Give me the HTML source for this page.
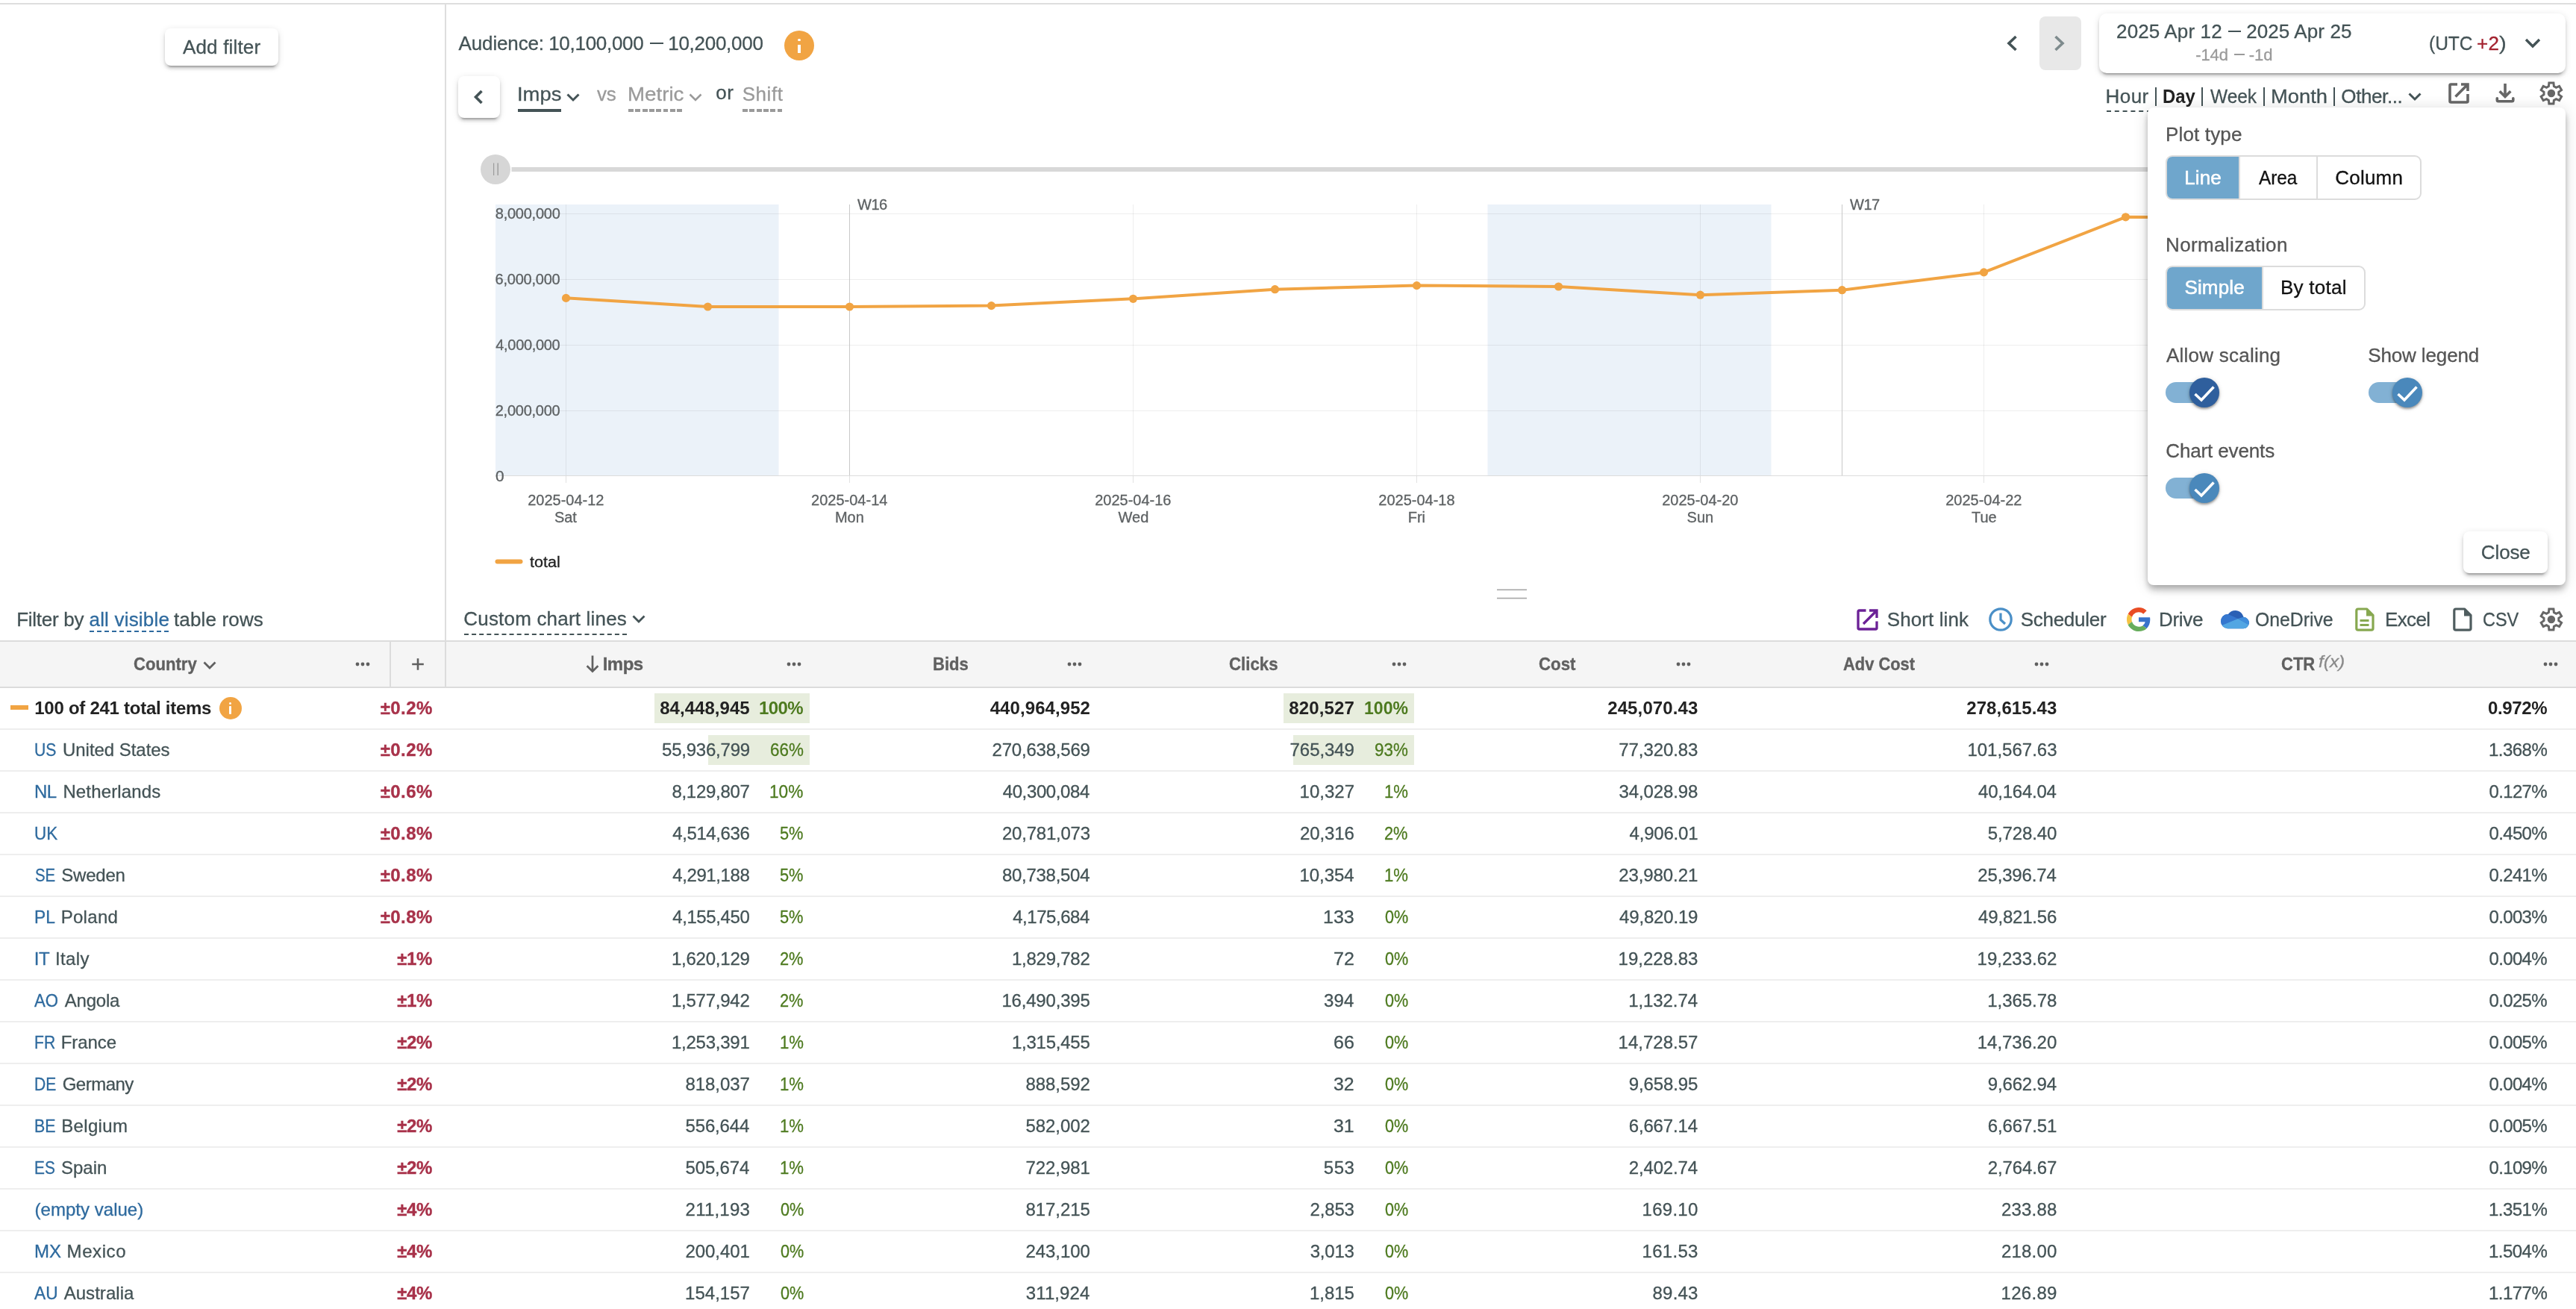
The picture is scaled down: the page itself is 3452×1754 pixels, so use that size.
<!DOCTYPE html>
<html><head><meta charset="utf-8"><title>Report</title>
<style>
html,body{margin:0;padding:0;background:#fff}
body{width:3452px;height:1754px;position:relative;overflow:hidden;font-family:"Liberation Sans",sans-serif;color:#445356}
.t{position:absolute;white-space:nowrap;height:40px;line-height:40px}
#w{position:absolute;left:0;top:0;width:3452px;height:1754px;overflow:hidden;will-change:transform}
</style></head><body><div id="w">
<div style="position:absolute;left:0px;top:4px;width:3452px;height:2px;background:#dedede;"></div>
<div style="position:absolute;left:596px;top:6px;width:2px;height:853px;background:#dedede;"></div>
<div style="position:absolute;left:221px;top:38px;width:152px;height:50px;border-radius:8px;background:#fff;box-shadow:0 6px 2px -4px rgba(0,0,0,.2),0 4px 4px 0 rgba(0,0,0,.14),0 2px 10px 0 rgba(0,0,0,.12)"></div>
<div style="position:absolute;left:870.5px;top:56.5px;width:18px;height:2px;background:#445356;"></div>
<div style="position:absolute;left:1051px;top:41px;width:40px;height:40px;border-radius:50%;background:#f1a443"></div>
<div style="position:absolute;left:1069.3px;top:59.5px;width:3.4px;height:11.5px;background:#fff;"></div>
<div style="position:absolute;left:1069.3px;top:51.8px;width:3.4px;height:3.6px;background:#fff;border-radius:1.7px"></div>
<div style="position:absolute;left:614px;top:102px;width:56px;height:56px;border-radius:8px;background:#fff;box-shadow:0 6px 2px -4px rgba(0,0,0,.2),0 4px 4px 0 rgba(0,0,0,.14),0 2px 10px 0 rgba(0,0,0,.12)"></div>
<svg style="position:absolute;left:628px;top:116px;" width="28" height="28" viewBox="0 0 28 28"><path d="M17.5 6 L9.5 14 L17.5 22" fill="none" stroke="#445356" stroke-width="3.6"/></svg>
<div style="position:absolute;left:694px;top:146px;width:57.5px;height:4px;background:#445356;"></div>
<svg style="position:absolute;left:758px;top:120px;" width="20" height="20" viewBox="0 0 20 20"><path d="M2.5 6.5 L10 14 L17.5 6.5" fill="none" stroke="#445356" stroke-width="3"/></svg>
<div style="position:absolute;left:842px;top:146px;width:74px;height:4px;background:repeating-linear-gradient(90deg,#9a9a9a 0 6.9px,transparent 6.9px 9.3px)"></div>
<svg style="position:absolute;left:922px;top:120px;" width="20" height="20" viewBox="0 0 20 20"><path d="M2.5 6.5 L10 14 L17.5 6.5" fill="none" stroke="#9a9a9a" stroke-width="2.6"/></svg>
<div style="position:absolute;left:995px;top:146px;width:54px;height:4px;background:repeating-linear-gradient(90deg,#9a9a9a 0 6.9px,transparent 6.9px 9.3px)"></div>
<svg style="position:absolute;left:0px;top:0px;pointer-events:none" width="3452" height="860" viewBox="0 0 3452 860"><rect x="664" y="274" width="379.5" height="364" fill="#ebf2f9"/><rect x="1993.5" y="274" width="380" height="364" fill="#ebf2f9"/><rect x="3323.5" y="274" width="100.5" height="364" fill="#ebf2f9"/><rect x="664" y="286" width="2760" height="1" fill="rgba(0,0,0,0.065)"/><rect x="664" y="374" width="2760" height="1" fill="rgba(0,0,0,0.065)"/><rect x="664" y="462" width="2760" height="1" fill="rgba(0,0,0,0.065)"/><rect x="664" y="550" width="2760" height="1" fill="rgba(0,0,0,0.065)"/><rect x="758.0" y="274" width="1" height="363" fill="rgba(0,0,0,0.065)"/><rect x="758.0" y="638" width="1" height="9" fill="#e2e2e2"/><rect x="1518.0" y="274" width="1" height="363" fill="rgba(0,0,0,0.065)"/><rect x="1518.0" y="638" width="1" height="9" fill="#e2e2e2"/><rect x="1898.0" y="274" width="1" height="363" fill="rgba(0,0,0,0.065)"/><rect x="1898.0" y="638" width="1" height="9" fill="#e2e2e2"/><rect x="2278.0" y="274" width="1" height="363" fill="rgba(0,0,0,0.065)"/><rect x="2278.0" y="638" width="1" height="9" fill="#e2e2e2"/><rect x="2658.0" y="274" width="1" height="363" fill="rgba(0,0,0,0.065)"/><rect x="2658.0" y="638" width="1" height="9" fill="#e2e2e2"/><rect x="3038.0" y="274" width="1" height="363" fill="rgba(0,0,0,0.065)"/><rect x="3038.0" y="638" width="1" height="9" fill="#e2e2e2"/><rect x="1138.0" y="274" width="1" height="363" fill="#c8c8c8"/><rect x="1138.0" y="638" width="1" height="9" fill="#e2e2e2"/><rect x="2468.0" y="274" width="1" height="363" fill="#c8c8c8"/><rect x="664" y="637" width="2760" height="1" fill="#dcdcdc"/><polyline points="758.5,399.4 948.5,411.0 1138.5,411.0 1328.5,409.6 1518.5,400.3 1708.5,387.7 1898.5,382.6 2088.5,384.0 2278.5,395.2 2468.5,388.7 2658.5,364.9 2848.5,290.8 3038.5,292.0 3228.5,301.0" fill="none" stroke="#f1a443" stroke-width="4" stroke-linejoin="round" stroke-linecap="round"/><circle cx="758.5" cy="399.4" r="5.6" fill="#f1a443"/><circle cx="948.5" cy="411.0" r="5.6" fill="#f1a443"/><circle cx="1138.5" cy="411.0" r="5.6" fill="#f1a443"/><circle cx="1328.5" cy="409.6" r="5.6" fill="#f1a443"/><circle cx="1518.5" cy="400.3" r="5.6" fill="#f1a443"/><circle cx="1708.5" cy="387.7" r="5.6" fill="#f1a443"/><circle cx="1898.5" cy="382.6" r="5.6" fill="#f1a443"/><circle cx="2088.5" cy="384.0" r="5.6" fill="#f1a443"/><circle cx="2278.5" cy="395.2" r="5.6" fill="#f1a443"/><circle cx="2468.5" cy="388.7" r="5.6" fill="#f1a443"/><circle cx="2658.5" cy="364.9" r="5.6" fill="#f1a443"/><circle cx="2848.5" cy="290.8" r="5.6" fill="#f1a443"/><circle cx="3038.5" cy="292.0" r="5.6" fill="#f1a443"/><circle cx="3228.5" cy="301.0" r="5.6" fill="#f1a443"/><rect x="663.5" y="749.5" width="37" height="6" rx="3" fill="#f1a443"/><rect x="685.5" y="224" width="2738" height="6" fill="#d8d8d8"/><circle cx="664" cy="227" r="20" fill="#d6d6d6"/><rect x="661" y="218.5" width="1.2" height="16.5" fill="#9c9c9c"/><rect x="666.5" y="218.5" width="1.4" height="16.5" fill="#9c9c9c"/><rect x="2006" y="789.5" width="40" height="1.6" fill="#a6a6a6"/><rect x="2006" y="800.8" width="40" height="1.6" fill="#a6a6a6"/></svg>
<svg style="position:absolute;left:2682px;top:44px;" width="28" height="28" viewBox="0 0 28 28"><path d="M19.5 5 L10 14 L19.5 23" fill="none" stroke="#445356" stroke-width="3.6"/></svg>
<div style="position:absolute;left:2733px;top:22px;width:56px;height:72px;background:#e8e8e8;border-radius:8px"></div>
<svg style="position:absolute;left:2745px;top:44px;" width="28" height="28" viewBox="0 0 28 28"><path d="M9.5 5 L19 14 L9.5 23" fill="none" stroke="#7e8b8d" stroke-width="3.6"/></svg>
<div style="position:absolute;left:2813px;top:18px;width:625px;height:80px;border-radius:10px;background:#fff;box-shadow:0 6px 2px -4px rgba(0,0,0,.2),0 4px 4px 0 rgba(0,0,0,.14),0 2px 10px 0 rgba(0,0,0,.12)"></div>
<div style="position:absolute;left:2985.5px;top:40.6px;width:17px;height:2px;background:#445356;"></div>
<div style="position:absolute;left:2993.6px;top:72.3px;width:14.4px;height:2.2px;background:#9a9a9a;"></div>
<svg style="position:absolute;left:3382px;top:46px;" width="24" height="24" viewBox="0 0 24 24"><path d="M3 7 L12 16 L21 7" fill="none" stroke="#445356" stroke-width="3.4"/></svg>
<div style="position:absolute;left:2887.8px;top:117px;width:2.2px;height:25px;background:#445356;"></div>
<div style="position:absolute;left:2950.3px;top:117px;width:2.2px;height:25px;background:#445356;"></div>
<div style="position:absolute;left:3032.8px;top:117px;width:2.2px;height:25px;background:#445356;"></div>
<div style="position:absolute;left:3127.0px;top:117px;width:2.2px;height:25px;background:#445356;"></div>
<div style="position:absolute;left:2823px;top:148px;width:60px;height:0;border-top:2px dashed #445356"></div>
<svg style="position:absolute;left:3226px;top:120px;" width="20" height="20" viewBox="0 0 20 20"><path d="M2.5 5.5 L10 13 L17.5 5.5" fill="none" stroke="#445356" stroke-width="3"/></svg>
<svg style="position:absolute;left:3281px;top:111px;" width="28" height="28" viewBox="0 0 28 28"><path d="M12 2 H3.5 Q2 2 2 3.5 V24.5 Q2 26 3.5 26 H24.5 Q26 26 26 24.5 V15" fill="none" stroke="#666" stroke-width="3.6"/><path d="M17 2 H26 V11 M26 2 L9.5 18.5" fill="none" stroke="#666" stroke-width="3.6"/></svg>
<svg style="position:absolute;left:3343px;top:111px;" width="28" height="28" viewBox="0 0 28 28"><path d="M14 1.1 V18 M6.7 11.2 L14 18.5 L21.3 11.2" fill="none" stroke="#666" stroke-width="3.6"/><path d="M3.3 20.8 V23 Q3.3 24.7 5 24.7 H23.1 Q24.8 24.7 24.8 23 V20.8" fill="none" stroke="#666" stroke-width="3.6" stroke-linecap="round"/></svg>
<svg style="position:absolute;left:3398px;top:105px;" width="40" height="40" viewBox="0 0 40 40"><path d="M17.4 10.5 L17.9 5.9 L23.9 5.9 L24.4 10.5 L27.4 12.3 L31.6 10.4 L34.6 15.6 L30.8 18.3 L30.8 21.7 L34.6 24.4 L31.6 29.6 L27.4 27.7 L24.4 29.5 L23.9 34.1 L17.9 34.1 L17.4 29.5 L14.4 27.7 L10.2 29.6 L7.2 24.4 L11.0 21.7 L11.0 18.3 L7.2 15.6 L10.2 10.4 L14.4 12.3 Z" fill="none" stroke="#666" stroke-width="3.0" stroke-linejoin="miter"/><circle cx="20.9" cy="20" r="5.25" fill="#666"/></svg>
<div style="position:absolute;left:120px;top:845px;width:106px;height:0;border-top:2px dashed #2e6a9e"></div>
<div style="position:absolute;left:622px;top:849px;width:218px;height:0;border-top:2px dashed #445356"></div>
<svg style="position:absolute;left:846px;top:820px;" width="20" height="20" viewBox="0 0 20 20"><path d="M2.5 5.5 L10 13 L17.5 5.5" fill="none" stroke="#445356" stroke-width="2.8"/></svg>
<svg style="position:absolute;left:2488px;top:816px;" width="29" height="29" viewBox="0 0 29 29"><path d="M12.5 2 H3.5 Q2 2 2 3.5 V25.5 Q2 27 3.5 27 H25.5 Q27 27 27 25.5 V16.5" fill="none" stroke="#6b2196" stroke-width="3.3"/><path d="M17 2 H27 V12 M27 2 L9 20" fill="none" stroke="#6b2196" stroke-width="3.3"/></svg>
<svg style="position:absolute;left:2664px;top:813px;" width="34" height="34" viewBox="0 0 34 34"><circle cx="17" cy="17" r="14.2" fill="none" stroke="#4a8fc7" stroke-width="3.2"/><path d="M17 8.5 V17.5 L23 23" fill="none" stroke="#4a8fc7" stroke-width="3.2"/></svg>
<svg style="position:absolute;left:2850px;top:814px;" width="32" height="32" viewBox="0 0 48 48"><path fill="#e94d25" d="M24 9.5c3.54 0 6.71 1.22 9.21 3.6l6.85-6.85C35.9 2.38 30.47 0 24 0 14.62 0 6.51 5.38 2.56 13.22l7.98 6.19C12.43 13.72 17.74 9.5 24 9.5z"/><path fill="#3874cb" d="M46.98 24.55c0-1.57-.15-3.09-.38-4.55H24v9.02h12.94c-.58 2.96-2.26 5.48-4.78 7.18l7.73 6c4.51-4.18 7.09-10.36 7.09-17.65z"/><path fill="#f5c242" d="M10.53 28.59c-.48-1.45-.76-2.99-.76-4.59s.27-3.14.76-4.59l-7.98-6.19C.92 16.46 0 20.12 0 24c0 3.88.92 7.54 2.56 10.78l7.97-6.19z"/><path fill="#67ad5c" d="M24 48c6.48 0 11.93-2.13 15.89-5.81l-7.73-6c-2.15 1.45-4.92 2.3-8.16 2.3-6.26 0-11.57-4.22-13.47-9.91l-7.98 6.19C6.51 42.62 14.62 48 24 48z"/></svg>
<svg style="position:absolute;left:2975px;top:817px;" width="40" height="27" viewBox="0 0 40 27"><defs><clipPath id="odc"><ellipse cx="9.9" cy="15.55" rx="8.8" ry="9.65"/><circle cx="31.2" cy="17.5" r="7.7"/><rect x="9.9" y="12" width="21.3" height="13.2"/><path d="M10.6 6.4 C12.6 3.2 16.3 1 20.6 1 C26.2 1 30.2 4.6 31.5 10 L31.5 14 L10.6 14 Z"/></clipPath></defs><g clip-path="url(#odc)"><rect x="0" y="0" width="40" height="27" fill="#2a60b5"/><path d="M0 0 H10.4 V6 Q17 8.6 24 12.1 L0 21.9 Z" fill="#3577cf"/><path d="M24 12.1 L31.5 9.7 V0 H40 V21 Z" fill="#3f8ddc"/><path d="M24 12.1 L40 21 V27 H0 V21.9 Z" fill="#52a6e3"/></g></svg>
<svg style="position:absolute;left:3155px;top:814px;" width="28" height="33" viewBox="0 0 28 33"><path d="M5 2 H16.5 L25 10.5 V28 Q25 30.2 22.8 30.2 H5 Q2.8 30.2 2.8 28 V4.2 Q2.8 2 5 2 Z" fill="none" stroke="#87a850" stroke-width="3.2" stroke-linejoin="round"/><path d="M16 2 L25.5 11.5 H16 Z" fill="#87a850"/><rect x="7.5" y="16" width="12" height="3" fill="#87a850"/><rect x="7.5" y="22" width="12" height="3" fill="#87a850"/></svg>
<svg style="position:absolute;left:3286px;top:814px;" width="28" height="33" viewBox="0 0 28 33"><path d="M5 2 H16.5 L25 10.5 V28 Q25 30.2 22.8 30.2 H5 Q2.8 30.2 2.8 28 V4.2 Q2.8 2 5 2 Z" fill="none" stroke="#4f5d5f" stroke-width="3.2" stroke-linejoin="round"/><path d="M16 2 L25.5 11.5 H16 Z" fill="#4f5d5f"/></svg>
<svg style="position:absolute;left:3398px;top:810px;" width="40" height="40" viewBox="0 0 40 40"><path d="M17.4 10.5 L17.9 5.9 L23.9 5.9 L24.4 10.5 L27.4 12.3 L31.6 10.4 L34.6 15.6 L30.8 18.3 L30.8 21.7 L34.6 24.4 L31.6 29.6 L27.4 27.7 L24.4 29.5 L23.9 34.1 L17.9 34.1 L17.4 29.5 L14.4 27.7 L10.2 29.6 L7.2 24.4 L11.0 21.7 L11.0 18.3 L7.2 15.6 L10.2 10.4 L14.4 12.3 Z" fill="none" stroke="#666" stroke-width="3.0" stroke-linejoin="miter"/><circle cx="20.9" cy="20" r="5.25" fill="#666"/></svg>
<div style="position:absolute;left:0px;top:859px;width:3452px;height:63px;background:#f5f5f5;"></div>
<div style="position:absolute;left:0px;top:858px;width:3452px;height:2px;background:#dcdcdc;"></div>
<div style="position:absolute;left:0px;top:920px;width:3452px;height:2px;background:#dcdcdc;"></div>
<div style="position:absolute;left:522px;top:860px;width:2px;height:60px;background:#dcdcdc;"></div>
<div style="position:absolute;left:596px;top:860px;width:2px;height:60px;background:#dcdcdc;"></div>
<svg style="position:absolute;left:271px;top:882px;" width="20" height="20" viewBox="0 0 20 20"><path d="M2.5 5.5 L10 13 L17.5 5.5" fill="none" stroke="#606060" stroke-width="2.8"/></svg>
<svg style="position:absolute;left:476px;top:887px;" width="20" height="6" viewBox="0 0 20 6"><circle cx="3" cy="3" r="2.4" fill="#606060"/><circle cx="10" cy="3" r="2.4" fill="#606060"/><circle cx="17" cy="3" r="2.4" fill="#606060"/></svg>
<svg style="position:absolute;left:551px;top:881px;" width="18" height="18" viewBox="0 0 18 18"><path d="M9 1.2 V16.8 M1.2 9 H16.8" stroke="#606060" stroke-width="2.6" fill="none"/></svg>
<svg style="position:absolute;left:785px;top:878px;" width="18" height="24" viewBox="0 0 18 24"><path d="M9 0.5 V21.5 M1.6 14.2 L9 21.6 L16.4 14.2" stroke="#606060" stroke-width="2.7" fill="none"/></svg>
<svg style="position:absolute;left:1054px;top:887px;" width="20" height="6" viewBox="0 0 20 6"><circle cx="3" cy="3" r="2.4" fill="#606060"/><circle cx="10" cy="3" r="2.4" fill="#606060"/><circle cx="17" cy="3" r="2.4" fill="#606060"/></svg>
<svg style="position:absolute;left:1430px;top:887px;" width="20" height="6" viewBox="0 0 20 6"><circle cx="3" cy="3" r="2.4" fill="#606060"/><circle cx="10" cy="3" r="2.4" fill="#606060"/><circle cx="17" cy="3" r="2.4" fill="#606060"/></svg>
<svg style="position:absolute;left:1865px;top:887px;" width="20" height="6" viewBox="0 0 20 6"><circle cx="3" cy="3" r="2.4" fill="#606060"/><circle cx="10" cy="3" r="2.4" fill="#606060"/><circle cx="17" cy="3" r="2.4" fill="#606060"/></svg>
<svg style="position:absolute;left:2246px;top:887px;" width="20" height="6" viewBox="0 0 20 6"><circle cx="3" cy="3" r="2.4" fill="#606060"/><circle cx="10" cy="3" r="2.4" fill="#606060"/><circle cx="17" cy="3" r="2.4" fill="#606060"/></svg>
<svg style="position:absolute;left:2726px;top:887px;" width="20" height="6" viewBox="0 0 20 6"><circle cx="3" cy="3" r="2.4" fill="#606060"/><circle cx="10" cy="3" r="2.4" fill="#606060"/><circle cx="17" cy="3" r="2.4" fill="#606060"/></svg>
<svg style="position:absolute;left:3408px;top:887px;" width="20" height="6" viewBox="0 0 20 6"><circle cx="3" cy="3" r="2.4" fill="#606060"/><circle cx="10" cy="3" r="2.4" fill="#606060"/><circle cx="17" cy="3" r="2.4" fill="#606060"/></svg>
<div style="position:absolute;left:877px;top:929px;width:208px;height:40px;background:#e7eddd;"></div>
<div style="position:absolute;left:1720px;top:929px;width:175px;height:40px;background:#e7eddd;"></div>
<div style="position:absolute;left:14px;top:945px;width:24px;height:6px;background:#f1a443;"></div>
<div style="position:absolute;left:293.5px;top:934px;width:30px;height:30px;border-radius:50%;background:#f1a443"></div>
<div style="position:absolute;left:307px;top:946px;width:3px;height:11px;background:#fff;border-radius:1px"></div>
<div style="position:absolute;left:307px;top:940.5px;width:3px;height:3px;background:#fff;border-radius:1.5px"></div>
<div style="position:absolute;left:0px;top:976px;width:3452px;height:2px;background:#eeeeee;"></div>
<div style="position:absolute;left:949px;top:985px;width:136px;height:40px;background:#e7eddd;"></div>
<div style="position:absolute;left:1733px;top:985px;width:162px;height:40px;background:#e7eddd;"></div>
<div style="position:absolute;left:0px;top:1032px;width:3452px;height:2px;background:#eeeeee;"></div>
<div style="position:absolute;left:0px;top:1088px;width:3452px;height:2px;background:#eeeeee;"></div>
<div style="position:absolute;left:0px;top:1144px;width:3452px;height:2px;background:#eeeeee;"></div>
<div style="position:absolute;left:0px;top:1200px;width:3452px;height:2px;background:#eeeeee;"></div>
<div style="position:absolute;left:0px;top:1256px;width:3452px;height:2px;background:#eeeeee;"></div>
<div style="position:absolute;left:0px;top:1312px;width:3452px;height:2px;background:#eeeeee;"></div>
<div style="position:absolute;left:0px;top:1368px;width:3452px;height:2px;background:#eeeeee;"></div>
<div style="position:absolute;left:0px;top:1424px;width:3452px;height:2px;background:#eeeeee;"></div>
<div style="position:absolute;left:0px;top:1480px;width:3452px;height:2px;background:#eeeeee;"></div>
<div style="position:absolute;left:0px;top:1536px;width:3452px;height:2px;background:#eeeeee;"></div>
<div style="position:absolute;left:0px;top:1592px;width:3452px;height:2px;background:#eeeeee;"></div>
<div style="position:absolute;left:0px;top:1648px;width:3452px;height:2px;background:#eeeeee;"></div>
<div style="position:absolute;left:0px;top:1704px;width:3452px;height:2px;background:#eeeeee;"></div>
<div style="position:absolute;left:0px;top:1760px;width:3452px;height:2px;background:#eeeeee;"></div>
<div class="t" style="left:245.0px;top:43.0px;font-size:26px;letter-spacing:0.16px;-webkit-text-stroke:0.3px #445356;">Add filter</div>
<div class="t" style="left:614.6px;top:37.5px;font-size:26px;letter-spacing:-0.15px;-webkit-text-stroke:0.3px #445356;">Audience:</div>
<div class="t" style="left:735.2px;top:37.5px;font-size:26px;letter-spacing:-0.29px;-webkit-text-stroke:0.3px #445356;">10,100,000</div>
<div class="t" style="left:895.2px;top:37.5px;font-size:26px;letter-spacing:-0.27px;-webkit-text-stroke:0.3px #445356;">10,200,000</div>
<div class="t" style="left:693.0px;top:105.5px;font-size:26px;transform:scaleX(1.053);transform-origin:0 0;-webkit-text-stroke:0.3px #445356;">Imps</div>
<div class="t" style="left:800.0px;top:105.5px;font-size:26px;color:#9a9a9a;letter-spacing:-0.13px;-webkit-text-stroke:0.3px #9a9a9a;">vs</div>
<div class="t" style="left:841.1px;top:105.5px;font-size:26px;color:#9a9a9a;transform:scaleX(1.066);transform-origin:0 0;-webkit-text-stroke:0.3px #9a9a9a;">Metric</div>
<div class="t" style="left:959.3px;top:104.2px;font-size:26px;letter-spacing:0.53px;-webkit-text-stroke:0.3px #445356;">or</div>
<div class="t" style="left:994.7px;top:105.5px;font-size:26px;color:#9a9a9a;letter-spacing:0.54px;-webkit-text-stroke:0.3px #9a9a9a;">Shift</div>
<div class="t" style="left:663.8px;top:266.0px;font-size:20px;color:#5d6163;letter-spacing:-0.25px;-webkit-text-stroke:0.3px #5d6163;">8,000,000</div>
<div class="t" style="left:663.6px;top:354.0px;font-size:20px;color:#5d6163;letter-spacing:-0.23px;-webkit-text-stroke:0.3px #5d6163;">6,000,000</div>
<div class="t" style="left:664.3px;top:442.0px;font-size:20px;color:#5d6163;letter-spacing:-0.32px;-webkit-text-stroke:0.3px #5d6163;">4,000,000</div>
<div class="t" style="left:663.7px;top:530.0px;font-size:20px;color:#5d6163;letter-spacing:-0.24px;-webkit-text-stroke:0.3px #5d6163;">2,000,000</div>
<div class="t" style="left:664.0px;top:618.0px;font-size:20px;color:#5d6163;transform:scaleX(1.043);transform-origin:0 0;-webkit-text-stroke:0.3px #5d6163;">0</div>
<div class="t" style="left:707.2px;top:650.0px;font-size:20px;color:#5d6163;-webkit-text-stroke:0.3px #5d6163;">2025-04-12</div>
<div class="t" style="left:742.9px;top:673.0px;font-size:20px;color:#5d6163;-webkit-text-stroke:0.3px #5d6163;">Sat</div>
<div class="t" style="left:1087.1px;top:650.0px;font-size:20px;color:#5d6163;-webkit-text-stroke:0.3px #5d6163;">2025-04-14</div>
<div class="t" style="left:1118.9px;top:673.0px;font-size:20px;color:#5d6163;-webkit-text-stroke:0.3px #5d6163;">Mon</div>
<div class="t" style="left:1467.2px;top:650.0px;font-size:20px;color:#5d6163;-webkit-text-stroke:0.3px #5d6163;">2025-04-16</div>
<div class="t" style="left:1498.6px;top:673.0px;font-size:20px;color:#5d6163;-webkit-text-stroke:0.3px #5d6163;">Wed</div>
<div class="t" style="left:1847.3px;top:650.0px;font-size:20px;color:#5d6163;-webkit-text-stroke:0.3px #5d6163;">2025-04-18</div>
<div class="t" style="left:1886.7px;top:673.0px;font-size:20px;color:#5d6163;-webkit-text-stroke:0.3px #5d6163;">Fri</div>
<div class="t" style="left:2227.2px;top:650.0px;font-size:20px;color:#5d6163;-webkit-text-stroke:0.3px #5d6163;">2025-04-20</div>
<div class="t" style="left:2260.6px;top:673.0px;font-size:20px;color:#5d6163;-webkit-text-stroke:0.3px #5d6163;">Sun</div>
<div class="t" style="left:2607.2px;top:650.0px;font-size:20px;color:#5d6163;-webkit-text-stroke:0.3px #5d6163;">2025-04-22</div>
<div class="t" style="left:2642.0px;top:673.0px;font-size:20px;color:#5d6163;-webkit-text-stroke:0.3px #5d6163;">Tue</div>
<div class="t" style="left:1149.0px;top:254.0px;font-size:20px;color:#5d6163;letter-spacing:-0.50px;-webkit-text-stroke:0.3px #5d6163;">W16</div>
<div class="t" style="left:2479.0px;top:254.0px;font-size:20px;color:#5d6163;letter-spacing:-0.45px;-webkit-text-stroke:0.3px #5d6163;">W17</div>
<div class="t" style="left:709.9px;top:733.2px;font-size:20px;color:#222;transform:scaleX(1.079);transform-origin:0 0;-webkit-text-stroke:0.3px #222;">total</div>
<div class="t" style="left:2836.1px;top:21.5px;font-size:26px;letter-spacing:0.13px;-webkit-text-stroke:0.3px #445356;">2025 Apr 12</div>
<div class="t" style="left:3010.2px;top:21.5px;font-size:26px;letter-spacing:0.10px;-webkit-text-stroke:0.3px #445356;">2025 Apr 25</div>
<div class="t" style="left:2942.2px;top:53.5px;font-size:22px;color:#9a9a9a;letter-spacing:-0.07px;-webkit-text-stroke:0.3px #9a9a9a;">-14d</div>
<div class="t" style="left:3013.8px;top:53.5px;font-size:22px;color:#9a9a9a;letter-spacing:-0.09px;-webkit-text-stroke:0.3px #9a9a9a;">-1d</div>
<div class="t" style="left:3255.0px;top:37.5px;font-size:26px;transform:scaleX(0.943);transform-origin:0 0;-webkit-text-stroke:0.3px #445356;">(UTC</div>
<div class="t" style="left:3319.0px;top:37.5px;font-size:26px;color:#a3222f;letter-spacing:0.33px;-webkit-text-stroke:0.3px #a3222f;">+2</div>
<div class="t" style="left:3348.7px;top:37.5px;font-size:26px;transform:scaleX(1.121);transform-origin:0 0;-webkit-text-stroke:0.3px #445356;">)</div>
<div class="t" style="left:2821.5px;top:108.5px;font-size:26px;letter-spacing:0.45px;-webkit-text-stroke:0.3px #445356;">Hour</div>
<div class="t" style="left:2897.6px;top:108.5px;font-size:26px;color:#222;font-weight:700;transform:scaleX(0.918);transform-origin:0 0;">Day</div>
<div class="t" style="left:2962.0px;top:108.5px;font-size:26px;transform:scaleX(0.941);transform-origin:0 0;-webkit-text-stroke:0.3px #445356;">Week</div>
<div class="t" style="left:3042.6px;top:108.5px;font-size:26px;transform:scaleX(1.051);transform-origin:0 0;-webkit-text-stroke:0.3px #445356;">Month</div>
<div class="t" style="left:3137.3px;top:108.5px;font-size:26px;letter-spacing:-0.39px;-webkit-text-stroke:0.3px #445356;">Other...</div>
<div class="t" style="left:22.2px;top:810.0px;font-size:26px;letter-spacing:-0.26px;-webkit-text-stroke:0.3px #445356;">Filter by</div>
<div class="t" style="left:119.5px;top:810.0px;font-size:26px;color:#2e6a9e;letter-spacing:0.19px;-webkit-text-stroke:0.3px #2e6a9e;">all visible</div>
<div class="t" style="left:232.9px;top:810.0px;font-size:26px;letter-spacing:0.16px;-webkit-text-stroke:0.3px #445356;">table rows</div>
<div class="t" style="left:621.3px;top:809.0px;font-size:26px;letter-spacing:0.19px;-webkit-text-stroke:0.3px #445356;">Custom chart lines</div>
<div class="t" style="left:2528.7px;top:810.0px;font-size:26px;letter-spacing:0.10px;-webkit-text-stroke:0.3px #445356;">Short link</div>
<div class="t" style="left:2707.7px;top:810.0px;font-size:26px;letter-spacing:-0.27px;-webkit-text-stroke:0.3px #445356;">Scheduler</div>
<div class="t" style="left:2893.0px;top:810.0px;font-size:26px;letter-spacing:-0.33px;-webkit-text-stroke:0.3px #445356;">Drive</div>
<div class="t" style="left:3022.0px;top:810.0px;font-size:26px;transform:scaleX(0.952);transform-origin:0 0;-webkit-text-stroke:0.3px #445356;">OneDrive</div>
<div class="t" style="left:3196.0px;top:810.0px;font-size:26px;letter-spacing:-0.62px;-webkit-text-stroke:0.3px #445356;">Excel</div>
<div class="t" style="left:3326.9px;top:810.0px;font-size:26px;transform:scaleX(0.903);transform-origin:0 0;-webkit-text-stroke:0.3px #445356;">CSV</div>
<div class="t" style="left:179.2px;top:870.0px;font-size:24px;color:#606060;font-weight:700;transform:scaleX(0.921);transform-origin:0 0;-webkit-text-stroke:0.35px #606060;">Country</div>
<div class="t" style="left:807.7px;top:870.0px;font-size:24px;color:#606060;font-weight:700;letter-spacing:-0.50px;-webkit-text-stroke:0.35px #606060;">Imps</div>
<div class="t" style="left:1250.3px;top:870.0px;font-size:24px;color:#606060;font-weight:700;transform:scaleX(0.920);transform-origin:0 0;-webkit-text-stroke:0.35px #606060;">Bids</div>
<div class="t" style="left:1646.7px;top:870.0px;font-size:24px;color:#606060;font-weight:700;transform:scaleX(0.928);transform-origin:0 0;-webkit-text-stroke:0.35px #606060;">Clicks</div>
<div class="t" style="left:2062.2px;top:870.0px;font-size:24px;color:#606060;font-weight:700;transform:scaleX(0.927);transform-origin:0 0;-webkit-text-stroke:0.35px #606060;">Cost</div>
<div class="t" style="left:2469.6px;top:870.0px;font-size:24px;color:#606060;font-weight:700;transform:scaleX(0.912);transform-origin:0 0;-webkit-text-stroke:0.35px #606060;">Adv Cost</div>
<div class="t" style="left:3057.2px;top:870.0px;font-size:24px;color:#606060;font-weight:700;transform:scaleX(0.916);transform-origin:0 0;-webkit-text-stroke:0.35px #606060;">CTR</div>
<div class="t" style="left:3107.4px;top:866.5px;font-size:22px;color:#8a8a8a;transform:scaleX(1.109);transform-origin:0 0;font-style:italic;-webkit-text-stroke:0.3px #8a8a8a;">f(x)</div>
<div class="t" style="left:46.3px;top:928.5px;font-size:24px;color:#222;font-weight:700;letter-spacing:-0.27px;">100 of 241 total items</div>
<div class="t" style="left:509.7px;top:928.5px;font-size:24px;color:#a8324a;font-weight:700;letter-spacing:0.43px;-webkit-text-stroke:0.35px #a8324a;">±0.2%</div>
<div class="t" style="left:884.2px;top:928.5px;font-size:24px;color:#222;font-weight:700;letter-spacing:0.04px;">84,448,945</div>
<div class="t" style="left:1017.0px;top:928.5px;font-size:24px;color:#4d7a1f;font-weight:700;letter-spacing:-0.60px;">100%</div>
<div class="t" style="left:1326.7px;top:928.5px;font-size:24px;color:#222;font-weight:700;letter-spacing:0.08px;">440,964,952</div>
<div class="t" style="left:1727.2px;top:928.5px;font-size:24px;color:#222;font-weight:700;letter-spacing:0.15px;">820,527</div>
<div class="t" style="left:1827.6px;top:928.5px;font-size:24px;color:#4d7a1f;font-weight:700;transform:scaleX(0.961);transform-origin:0 0;">100%</div>
<div class="t" style="left:2154.2px;top:928.5px;font-size:24px;color:#222;font-weight:700;letter-spacing:0.12px;">245,070.43</div>
<div class="t" style="left:2635.2px;top:928.5px;font-size:24px;color:#222;font-weight:700;letter-spacing:0.12px;">278,615.43</div>
<div class="t" style="left:3334.0px;top:928.5px;font-size:24px;color:#222;font-weight:700;letter-spacing:-0.35px;">0.972%</div>
<div class="t" style="left:46.4px;top:984.5px;font-size:24px;color:#2e6a9e;transform:scaleX(0.884);transform-origin:0 0;-webkit-text-stroke:0.3px #2e6a9e;">US</div>
<div class="t" style="left:84.0px;top:984.5px;font-size:24px;letter-spacing:-0.04px;-webkit-text-stroke:0.3px #445356;">United States</div>
<div class="t" style="left:509.7px;top:984.5px;font-size:24px;color:#a8324a;font-weight:700;letter-spacing:0.43px;-webkit-text-stroke:0.35px #a8324a;">±0.2%</div>
<div class="t" style="left:887.0px;top:984.5px;font-size:24px;letter-spacing:-0.22px;-webkit-text-stroke:0.3px #445356;">55,936,799</div>
<div class="t" style="left:1031.6px;top:984.5px;font-size:24px;color:#4d7a1f;transform:scaleX(0.934);transform-origin:0 0;-webkit-text-stroke:0.3px #4d7a1f;">66%</div>
<div class="t" style="left:1329.5px;top:984.5px;font-size:24px;letter-spacing:-0.20px;-webkit-text-stroke:0.3px #445356;">270,638,569</div>
<div class="t" style="left:1728.6px;top:984.5px;font-size:24px;letter-spacing:-0.08px;-webkit-text-stroke:0.3px #445356;">765,349</div>
<div class="t" style="left:1841.7px;top:984.5px;font-size:24px;color:#4d7a1f;transform:scaleX(0.932);transform-origin:0 0;-webkit-text-stroke:0.3px #4d7a1f;">93%</div>
<div class="t" style="left:2169.3px;top:984.5px;font-size:24px;letter-spacing:-0.09px;-webkit-text-stroke:0.3px #445356;">77,320.83</div>
<div class="t" style="left:2636.4px;top:984.5px;font-size:24px;-webkit-text-stroke:0.3px #445356;">101,567.63</div>
<div class="t" style="left:3334.9px;top:984.5px;font-size:24px;letter-spacing:-0.51px;-webkit-text-stroke:0.3px #445356;">1.368%</div>
<div class="t" style="left:46.0px;top:1040.5px;font-size:24px;color:#2e6a9e;letter-spacing:-0.62px;-webkit-text-stroke:0.3px #2e6a9e;">NL</div>
<div class="t" style="left:84.4px;top:1040.5px;font-size:24px;letter-spacing:0.15px;-webkit-text-stroke:0.3px #445356;">Netherlands</div>
<div class="t" style="left:509.7px;top:1040.5px;font-size:24px;color:#a8324a;font-weight:700;letter-spacing:0.43px;-webkit-text-stroke:0.35px #a8324a;">±0.6%</div>
<div class="t" style="left:900.4px;top:1040.5px;font-size:24px;letter-spacing:-0.29px;-webkit-text-stroke:0.3px #445356;">8,129,807</div>
<div class="t" style="left:1031.2px;top:1040.5px;font-size:24px;color:#4d7a1f;transform:scaleX(0.943);transform-origin:0 0;-webkit-text-stroke:0.3px #4d7a1f;">10%</div>
<div class="t" style="left:1343.7px;top:1040.5px;font-size:24px;letter-spacing:-0.38px;-webkit-text-stroke:0.3px #445356;">40,300,084</div>
<div class="t" style="left:1741.6px;top:1040.5px;font-size:24px;-webkit-text-stroke:0.3px #445356;">10,327</div>
<div class="t" style="left:1854.7px;top:1040.5px;font-size:24px;color:#4d7a1f;transform:scaleX(0.923);transform-origin:0 0;-webkit-text-stroke:0.3px #4d7a1f;">1%</div>
<div class="t" style="left:2169.5px;top:1040.5px;font-size:24px;letter-spacing:-0.12px;-webkit-text-stroke:0.3px #445356;">34,028.98</div>
<div class="t" style="left:2651.1px;top:1040.5px;font-size:24px;letter-spacing:-0.25px;-webkit-text-stroke:0.3px #445356;">40,164.04</div>
<div class="t" style="left:3335.6px;top:1040.5px;font-size:24px;letter-spacing:-0.67px;-webkit-text-stroke:0.3px #445356;">0.127%</div>
<div class="t" style="left:46.4px;top:1096.5px;font-size:24px;color:#2e6a9e;transform:scaleX(0.933);transform-origin:0 0;-webkit-text-stroke:0.3px #2e6a9e;">UK</div>
<div class="t" style="left:509.7px;top:1096.5px;font-size:24px;color:#a8324a;font-weight:700;letter-spacing:0.43px;-webkit-text-stroke:0.35px #a8324a;">±0.8%</div>
<div class="t" style="left:901.2px;top:1096.5px;font-size:24px;letter-spacing:-0.39px;-webkit-text-stroke:0.3px #445356;">4,514,636</div>
<div class="t" style="left:1045.2px;top:1096.5px;font-size:24px;color:#4d7a1f;transform:scaleX(0.908);transform-origin:0 0;-webkit-text-stroke:0.3px #4d7a1f;">5%</div>
<div class="t" style="left:1343.0px;top:1096.5px;font-size:24px;letter-spacing:-0.23px;-webkit-text-stroke:0.3px #445356;">20,781,073</div>
<div class="t" style="left:1742.1px;top:1096.5px;font-size:24px;letter-spacing:-0.13px;-webkit-text-stroke:0.3px #445356;">20,316</div>
<div class="t" style="left:1855.2px;top:1096.5px;font-size:24px;color:#4d7a1f;transform:scaleX(0.908);transform-origin:0 0;-webkit-text-stroke:0.3px #4d7a1f;">2%</div>
<div class="t" style="left:2183.6px;top:1096.5px;font-size:24px;letter-spacing:-0.22px;-webkit-text-stroke:0.3px #445356;">4,906.01</div>
<div class="t" style="left:2663.8px;top:1096.5px;font-size:24px;letter-spacing:-0.14px;-webkit-text-stroke:0.3px #445356;">5,728.40</div>
<div class="t" style="left:3335.6px;top:1096.5px;font-size:24px;letter-spacing:-0.67px;-webkit-text-stroke:0.3px #445356;">0.450%</div>
<div class="t" style="left:46.8px;top:1152.5px;font-size:24px;color:#2e6a9e;transform:scaleX(0.851);transform-origin:0 0;-webkit-text-stroke:0.3px #2e6a9e;">SE</div>
<div class="t" style="left:82.3px;top:1152.5px;font-size:24px;letter-spacing:-0.23px;-webkit-text-stroke:0.3px #445356;">Sweden</div>
<div class="t" style="left:509.7px;top:1152.5px;font-size:24px;color:#a8324a;font-weight:700;letter-spacing:0.43px;-webkit-text-stroke:0.35px #a8324a;">±0.8%</div>
<div class="t" style="left:901.2px;top:1152.5px;font-size:24px;letter-spacing:-0.39px;-webkit-text-stroke:0.3px #445356;">4,291,188</div>
<div class="t" style="left:1045.2px;top:1152.5px;font-size:24px;color:#4d7a1f;transform:scaleX(0.908);transform-origin:0 0;-webkit-text-stroke:0.3px #4d7a1f;">5%</div>
<div class="t" style="left:1343.0px;top:1152.5px;font-size:24px;letter-spacing:-0.29px;-webkit-text-stroke:0.3px #445356;">80,738,504</div>
<div class="t" style="left:1741.6px;top:1152.5px;font-size:24px;letter-spacing:-0.10px;-webkit-text-stroke:0.3px #445356;">10,354</div>
<div class="t" style="left:1854.7px;top:1152.5px;font-size:24px;color:#4d7a1f;transform:scaleX(0.923);transform-origin:0 0;-webkit-text-stroke:0.3px #4d7a1f;">1%</div>
<div class="t" style="left:2169.3px;top:1152.5px;font-size:24px;letter-spacing:-0.10px;-webkit-text-stroke:0.3px #445356;">23,980.21</div>
<div class="t" style="left:2650.3px;top:1152.5px;font-size:24px;letter-spacing:-0.16px;-webkit-text-stroke:0.3px #445356;">25,396.74</div>
<div class="t" style="left:3335.6px;top:1152.5px;font-size:24px;letter-spacing:-0.67px;-webkit-text-stroke:0.3px #445356;">0.241%</div>
<div class="t" style="left:46.1px;top:1208.5px;font-size:24px;color:#2e6a9e;transform:scaleX(0.948);transform-origin:0 0;-webkit-text-stroke:0.3px #2e6a9e;">PL</div>
<div class="t" style="left:81.7px;top:1208.5px;font-size:24px;letter-spacing:0.29px;-webkit-text-stroke:0.3px #445356;">Poland</div>
<div class="t" style="left:509.7px;top:1208.5px;font-size:24px;color:#a8324a;font-weight:700;letter-spacing:0.43px;-webkit-text-stroke:0.35px #a8324a;">±0.8%</div>
<div class="t" style="left:901.2px;top:1208.5px;font-size:24px;letter-spacing:-0.40px;-webkit-text-stroke:0.3px #445356;">4,155,450</div>
<div class="t" style="left:1045.2px;top:1208.5px;font-size:24px;color:#4d7a1f;transform:scaleX(0.908);transform-origin:0 0;-webkit-text-stroke:0.3px #4d7a1f;">5%</div>
<div class="t" style="left:1357.2px;top:1208.5px;font-size:24px;letter-spacing:-0.45px;-webkit-text-stroke:0.3px #445356;">4,175,684</div>
<div class="t" style="left:1773.2px;top:1208.5px;font-size:24px;transform:scaleX(1.044);transform-origin:0 0;-webkit-text-stroke:0.3px #445356;">133</div>
<div class="t" style="left:1855.5px;top:1208.5px;font-size:24px;color:#4d7a1f;transform:scaleX(0.901);transform-origin:0 0;-webkit-text-stroke:0.3px #4d7a1f;">0%</div>
<div class="t" style="left:2170.1px;top:1208.5px;font-size:24px;letter-spacing:-0.18px;-webkit-text-stroke:0.3px #445356;">49,820.19</div>
<div class="t" style="left:2651.1px;top:1208.5px;font-size:24px;letter-spacing:-0.19px;-webkit-text-stroke:0.3px #445356;">49,821.56</div>
<div class="t" style="left:3335.6px;top:1208.5px;font-size:24px;letter-spacing:-0.67px;-webkit-text-stroke:0.3px #445356;">0.003%</div>
<div class="t" style="left:45.8px;top:1264.5px;font-size:24px;color:#2e6a9e;letter-spacing:-0.55px;-webkit-text-stroke:0.3px #2e6a9e;">IT</div>
<div class="t" style="left:74.0px;top:1264.5px;font-size:24px;letter-spacing:0.36px;-webkit-text-stroke:0.3px #445356;">Italy</div>
<div class="t" style="left:532.2px;top:1264.5px;font-size:24px;color:#a8324a;font-weight:700;letter-spacing:-0.39px;-webkit-text-stroke:0.35px #a8324a;">±1%</div>
<div class="t" style="left:899.9px;top:1264.5px;font-size:24px;letter-spacing:-0.22px;-webkit-text-stroke:0.3px #445356;">1,620,129</div>
<div class="t" style="left:1045.2px;top:1264.5px;font-size:24px;color:#4d7a1f;transform:scaleX(0.908);transform-origin:0 0;-webkit-text-stroke:0.3px #4d7a1f;">2%</div>
<div class="t" style="left:1355.9px;top:1264.5px;font-size:24px;letter-spacing:-0.23px;-webkit-text-stroke:0.3px #445356;">1,829,782</div>
<div class="t" style="left:1787.2px;top:1264.5px;font-size:24px;transform:scaleX(1.044);transform-origin:0 0;-webkit-text-stroke:0.3px #445356;">72</div>
<div class="t" style="left:1855.5px;top:1264.5px;font-size:24px;color:#4d7a1f;transform:scaleX(0.901);transform-origin:0 0;-webkit-text-stroke:0.3px #4d7a1f;">0%</div>
<div class="t" style="left:2168.6px;top:1264.5px;font-size:24px;-webkit-text-stroke:0.3px #445356;">19,228.83</div>
<div class="t" style="left:2649.6px;top:1264.5px;font-size:24px;-webkit-text-stroke:0.3px #445356;">19,233.62</div>
<div class="t" style="left:3335.6px;top:1264.5px;font-size:24px;letter-spacing:-0.67px;-webkit-text-stroke:0.3px #445356;">0.004%</div>
<div class="t" style="left:46.4px;top:1320.5px;font-size:24px;color:#2e6a9e;transform:scaleX(0.925);transform-origin:0 0;-webkit-text-stroke:0.3px #2e6a9e;">AO</div>
<div class="t" style="left:86.8px;top:1320.5px;font-size:24px;letter-spacing:-0.24px;-webkit-text-stroke:0.3px #445356;">Angola</div>
<div class="t" style="left:532.2px;top:1320.5px;font-size:24px;color:#a8324a;font-weight:700;letter-spacing:-0.39px;-webkit-text-stroke:0.35px #a8324a;">±1%</div>
<div class="t" style="left:899.9px;top:1320.5px;font-size:24px;letter-spacing:-0.23px;-webkit-text-stroke:0.3px #445356;">1,577,942</div>
<div class="t" style="left:1045.2px;top:1320.5px;font-size:24px;color:#4d7a1f;transform:scaleX(0.908);transform-origin:0 0;-webkit-text-stroke:0.3px #4d7a1f;">2%</div>
<div class="t" style="left:1342.4px;top:1320.5px;font-size:24px;letter-spacing:-0.19px;-webkit-text-stroke:0.3px #445356;">16,490,395</div>
<div class="t" style="left:1773.9px;top:1320.5px;font-size:24px;letter-spacing:0.20px;-webkit-text-stroke:0.3px #445356;">394</div>
<div class="t" style="left:1855.5px;top:1320.5px;font-size:24px;color:#4d7a1f;transform:scaleX(0.901);transform-origin:0 0;-webkit-text-stroke:0.3px #4d7a1f;">0%</div>
<div class="t" style="left:2182.3px;top:1320.5px;font-size:24px;letter-spacing:-0.10px;-webkit-text-stroke:0.3px #445356;">1,132.74</div>
<div class="t" style="left:2663.3px;top:1320.5px;font-size:24px;letter-spacing:-0.05px;-webkit-text-stroke:0.3px #445356;">1,365.78</div>
<div class="t" style="left:3335.6px;top:1320.5px;font-size:24px;letter-spacing:-0.67px;-webkit-text-stroke:0.3px #445356;">0.025%</div>
<div class="t" style="left:46.3px;top:1376.5px;font-size:24px;color:#2e6a9e;transform:scaleX(0.880);transform-origin:0 0;-webkit-text-stroke:0.3px #2e6a9e;">FR</div>
<div class="t" style="left:81.7px;top:1376.5px;font-size:24px;letter-spacing:-0.05px;-webkit-text-stroke:0.3px #445356;">France</div>
<div class="t" style="left:532.2px;top:1376.5px;font-size:24px;color:#a8324a;font-weight:700;letter-spacing:-0.39px;-webkit-text-stroke:0.35px #a8324a;">±2%</div>
<div class="t" style="left:899.9px;top:1376.5px;font-size:24px;letter-spacing:-0.23px;-webkit-text-stroke:0.3px #445356;">1,253,391</div>
<div class="t" style="left:1044.7px;top:1376.5px;font-size:24px;color:#4d7a1f;transform:scaleX(0.923);transform-origin:0 0;-webkit-text-stroke:0.3px #4d7a1f;">1%</div>
<div class="t" style="left:1355.9px;top:1376.5px;font-size:24px;letter-spacing:-0.24px;-webkit-text-stroke:0.3px #445356;">1,315,455</div>
<div class="t" style="left:1787.1px;top:1376.5px;font-size:24px;transform:scaleX(1.045);transform-origin:0 0;-webkit-text-stroke:0.3px #445356;">66</div>
<div class="t" style="left:1855.5px;top:1376.5px;font-size:24px;color:#4d7a1f;transform:scaleX(0.901);transform-origin:0 0;-webkit-text-stroke:0.3px #4d7a1f;">0%</div>
<div class="t" style="left:2168.6px;top:1376.5px;font-size:24px;-webkit-text-stroke:0.3px #445356;">14,728.57</div>
<div class="t" style="left:2649.8px;top:1376.5px;font-size:24px;letter-spacing:-0.04px;-webkit-text-stroke:0.3px #445356;">14,736.20</div>
<div class="t" style="left:3335.6px;top:1376.5px;font-size:24px;letter-spacing:-0.67px;-webkit-text-stroke:0.3px #445356;">0.005%</div>
<div class="t" style="left:46.3px;top:1432.5px;font-size:24px;color:#2e6a9e;transform:scaleX(0.877);transform-origin:0 0;-webkit-text-stroke:0.3px #2e6a9e;">DE</div>
<div class="t" style="left:83.7px;top:1432.5px;font-size:24px;letter-spacing:-0.51px;-webkit-text-stroke:0.3px #445356;">Germany</div>
<div class="t" style="left:532.2px;top:1432.5px;font-size:24px;color:#a8324a;font-weight:700;letter-spacing:-0.39px;-webkit-text-stroke:0.35px #a8324a;">±2%</div>
<div class="t" style="left:918.6px;top:1432.5px;font-size:24px;letter-spacing:-0.09px;-webkit-text-stroke:0.3px #445356;">818,037</div>
<div class="t" style="left:1044.7px;top:1432.5px;font-size:24px;color:#4d7a1f;transform:scaleX(0.923);transform-origin:0 0;-webkit-text-stroke:0.3px #4d7a1f;">1%</div>
<div class="t" style="left:1374.6px;top:1432.5px;font-size:24px;letter-spacing:-0.09px;-webkit-text-stroke:0.3px #445356;">888,592</div>
<div class="t" style="left:1787.4px;top:1432.5px;font-size:24px;transform:scaleX(1.037);transform-origin:0 0;-webkit-text-stroke:0.3px #445356;">32</div>
<div class="t" style="left:1855.5px;top:1432.5px;font-size:24px;color:#4d7a1f;transform:scaleX(0.901);transform-origin:0 0;-webkit-text-stroke:0.3px #4d7a1f;">0%</div>
<div class="t" style="left:2182.8px;top:1432.5px;font-size:24px;letter-spacing:-0.13px;-webkit-text-stroke:0.3px #445356;">9,658.95</div>
<div class="t" style="left:2663.8px;top:1432.5px;font-size:24px;letter-spacing:-0.17px;-webkit-text-stroke:0.3px #445356;">9,662.94</div>
<div class="t" style="left:3335.6px;top:1432.5px;font-size:24px;letter-spacing:-0.67px;-webkit-text-stroke:0.3px #445356;">0.004%</div>
<div class="t" style="left:46.2px;top:1488.5px;font-size:24px;color:#2e6a9e;transform:scaleX(0.891);transform-origin:0 0;-webkit-text-stroke:0.3px #2e6a9e;">BE</div>
<div class="t" style="left:82.2px;top:1488.5px;font-size:24px;letter-spacing:0.35px;-webkit-text-stroke:0.3px #445356;">Belgium</div>
<div class="t" style="left:532.2px;top:1488.5px;font-size:24px;color:#a8324a;font-weight:700;letter-spacing:-0.39px;-webkit-text-stroke:0.35px #a8324a;">±2%</div>
<div class="t" style="left:918.6px;top:1488.5px;font-size:24px;letter-spacing:-0.18px;-webkit-text-stroke:0.3px #445356;">556,644</div>
<div class="t" style="left:1044.7px;top:1488.5px;font-size:24px;color:#4d7a1f;transform:scaleX(0.923);transform-origin:0 0;-webkit-text-stroke:0.3px #4d7a1f;">1%</div>
<div class="t" style="left:1374.6px;top:1488.5px;font-size:24px;letter-spacing:-0.09px;-webkit-text-stroke:0.3px #445356;">582,002</div>
<div class="t" style="left:1787.4px;top:1488.5px;font-size:24px;transform:scaleX(1.036);transform-origin:0 0;-webkit-text-stroke:0.3px #445356;">31</div>
<div class="t" style="left:1855.5px;top:1488.5px;font-size:24px;color:#4d7a1f;transform:scaleX(0.901);transform-origin:0 0;-webkit-text-stroke:0.3px #4d7a1f;">0%</div>
<div class="t" style="left:2182.7px;top:1488.5px;font-size:24px;letter-spacing:-0.16px;-webkit-text-stroke:0.3px #445356;">6,667.14</div>
<div class="t" style="left:2663.7px;top:1488.5px;font-size:24px;letter-spacing:-0.10px;-webkit-text-stroke:0.3px #445356;">6,667.51</div>
<div class="t" style="left:3335.6px;top:1488.5px;font-size:24px;letter-spacing:-0.67px;-webkit-text-stroke:0.3px #445356;">0.005%</div>
<div class="t" style="left:46.3px;top:1544.5px;font-size:24px;color:#2e6a9e;transform:scaleX(0.871);transform-origin:0 0;-webkit-text-stroke:0.3px #2e6a9e;">ES</div>
<div class="t" style="left:82.1px;top:1544.5px;font-size:24px;letter-spacing:-0.04px;-webkit-text-stroke:0.3px #445356;">Spain</div>
<div class="t" style="left:532.2px;top:1544.5px;font-size:24px;color:#a8324a;font-weight:700;letter-spacing:-0.39px;-webkit-text-stroke:0.35px #a8324a;">±2%</div>
<div class="t" style="left:918.6px;top:1544.5px;font-size:24px;letter-spacing:-0.18px;-webkit-text-stroke:0.3px #445356;">505,674</div>
<div class="t" style="left:1044.7px;top:1544.5px;font-size:24px;color:#4d7a1f;transform:scaleX(0.923);transform-origin:0 0;-webkit-text-stroke:0.3px #4d7a1f;">1%</div>
<div class="t" style="left:1374.6px;top:1544.5px;font-size:24px;letter-spacing:-0.09px;-webkit-text-stroke:0.3px #445356;">722,981</div>
<div class="t" style="left:1773.8px;top:1544.5px;font-size:24px;letter-spacing:0.56px;-webkit-text-stroke:0.3px #445356;">553</div>
<div class="t" style="left:1855.5px;top:1544.5px;font-size:24px;color:#4d7a1f;transform:scaleX(0.901);transform-origin:0 0;-webkit-text-stroke:0.3px #4d7a1f;">0%</div>
<div class="t" style="left:2182.8px;top:1544.5px;font-size:24px;letter-spacing:-0.17px;-webkit-text-stroke:0.3px #445356;">2,402.74</div>
<div class="t" style="left:2663.8px;top:1544.5px;font-size:24px;letter-spacing:-0.11px;-webkit-text-stroke:0.3px #445356;">2,764.67</div>
<div class="t" style="left:3335.6px;top:1544.5px;font-size:24px;letter-spacing:-0.67px;-webkit-text-stroke:0.3px #445356;">0.109%</div>
<div class="t" style="left:46.5px;top:1600.5px;font-size:24px;color:#2e6a9e;letter-spacing:0.03px;-webkit-text-stroke:0.3px #2e6a9e;">(empty value)</div>
<div class="t" style="left:532.2px;top:1600.5px;font-size:24px;color:#a8324a;font-weight:700;letter-spacing:-0.39px;-webkit-text-stroke:0.35px #a8324a;">±4%</div>
<div class="t" style="left:918.6px;top:1600.5px;font-size:24px;letter-spacing:0.21px;-webkit-text-stroke:0.3px #445356;">211,193</div>
<div class="t" style="left:1045.5px;top:1600.5px;font-size:24px;color:#4d7a1f;transform:scaleX(0.901);transform-origin:0 0;-webkit-text-stroke:0.3px #4d7a1f;">0%</div>
<div class="t" style="left:1374.6px;top:1600.5px;font-size:24px;letter-spacing:-0.10px;-webkit-text-stroke:0.3px #445356;">817,215</div>
<div class="t" style="left:1755.6px;top:1600.5px;font-size:24px;letter-spacing:-0.17px;-webkit-text-stroke:0.3px #445356;">2,853</div>
<div class="t" style="left:1855.5px;top:1600.5px;font-size:24px;color:#4d7a1f;transform:scaleX(0.901);transform-origin:0 0;-webkit-text-stroke:0.3px #4d7a1f;">0%</div>
<div class="t" style="left:2200.5px;top:1600.5px;font-size:24px;letter-spacing:0.28px;-webkit-text-stroke:0.3px #445356;">169.10</div>
<div class="t" style="left:2682.0px;top:1600.5px;font-size:24px;letter-spacing:0.19px;-webkit-text-stroke:0.3px #445356;">233.88</div>
<div class="t" style="left:3334.9px;top:1600.5px;font-size:24px;letter-spacing:-0.51px;-webkit-text-stroke:0.3px #445356;">1.351%</div>
<div class="t" style="left:46.0px;top:1656.5px;font-size:24px;color:#2e6a9e;letter-spacing:-0.06px;-webkit-text-stroke:0.3px #2e6a9e;">MX</div>
<div class="t" style="left:89.6px;top:1656.5px;font-size:24px;letter-spacing:0.58px;-webkit-text-stroke:0.3px #445356;">Mexico</div>
<div class="t" style="left:532.2px;top:1656.5px;font-size:24px;color:#a8324a;font-weight:700;letter-spacing:-0.39px;-webkit-text-stroke:0.35px #a8324a;">±4%</div>
<div class="t" style="left:918.6px;top:1656.5px;font-size:24px;letter-spacing:-0.09px;-webkit-text-stroke:0.3px #445356;">200,401</div>
<div class="t" style="left:1045.5px;top:1656.5px;font-size:24px;color:#4d7a1f;transform:scaleX(0.901);transform-origin:0 0;-webkit-text-stroke:0.3px #4d7a1f;">0%</div>
<div class="t" style="left:1374.6px;top:1656.5px;font-size:24px;letter-spacing:-0.10px;-webkit-text-stroke:0.3px #445356;">243,100</div>
<div class="t" style="left:1755.7px;top:1656.5px;font-size:24px;letter-spacing:-0.21px;-webkit-text-stroke:0.3px #445356;">3,013</div>
<div class="t" style="left:1855.5px;top:1656.5px;font-size:24px;color:#4d7a1f;transform:scaleX(0.901);transform-origin:0 0;-webkit-text-stroke:0.3px #4d7a1f;">0%</div>
<div class="t" style="left:2200.5px;top:1656.5px;font-size:24px;letter-spacing:0.30px;-webkit-text-stroke:0.3px #445356;">161.53</div>
<div class="t" style="left:2682.0px;top:1656.5px;font-size:24px;letter-spacing:0.17px;-webkit-text-stroke:0.3px #445356;">218.00</div>
<div class="t" style="left:3334.9px;top:1656.5px;font-size:24px;letter-spacing:-0.51px;-webkit-text-stroke:0.3px #445356;">1.504%</div>
<div class="t" style="left:46.4px;top:1712.5px;font-size:24px;color:#2e6a9e;transform:scaleX(0.946);transform-origin:0 0;-webkit-text-stroke:0.3px #2e6a9e;">AU</div>
<div class="t" style="left:85.7px;top:1712.5px;font-size:24px;letter-spacing:0.04px;-webkit-text-stroke:0.3px #445356;">Australia</div>
<div class="t" style="left:532.2px;top:1712.5px;font-size:24px;color:#a8324a;font-weight:700;letter-spacing:-0.39px;-webkit-text-stroke:0.35px #a8324a;">±4%</div>
<div class="t" style="left:918.1px;top:1712.5px;font-size:24px;-webkit-text-stroke:0.3px #445356;">154,157</div>
<div class="t" style="left:1045.5px;top:1712.5px;font-size:24px;color:#4d7a1f;transform:scaleX(0.901);transform-origin:0 0;-webkit-text-stroke:0.3px #4d7a1f;">0%</div>
<div class="t" style="left:1374.8px;top:1712.5px;font-size:24px;letter-spacing:0.09px;-webkit-text-stroke:0.3px #445356;">311,924</div>
<div class="t" style="left:1755.1px;top:1712.5px;font-size:24px;letter-spacing:-0.08px;-webkit-text-stroke:0.3px #445356;">1,815</div>
<div class="t" style="left:1855.5px;top:1712.5px;font-size:24px;color:#4d7a1f;transform:scaleX(0.901);transform-origin:0 0;-webkit-text-stroke:0.3px #4d7a1f;">0%</div>
<div class="t" style="left:2214.5px;top:1712.5px;font-size:24px;letter-spacing:0.22px;-webkit-text-stroke:0.3px #445356;">89.43</div>
<div class="t" style="left:2681.5px;top:1712.5px;font-size:24px;letter-spacing:0.31px;-webkit-text-stroke:0.3px #445356;">126.89</div>
<div class="t" style="left:3334.9px;top:1712.5px;font-size:24px;letter-spacing:-0.51px;-webkit-text-stroke:0.3px #445356;">1.177%</div>
<div style="position:absolute;left:2878px;top:144px;width:560px;height:640px;border-radius:8px;background:#fff;box-shadow:0 4px 8px -2px rgba(0,0,0,.22),0 8px 10px 0 rgba(0,0,0,.15),0 2px 20px 0 rgba(0,0,0,.14)"></div>
<div style="position:absolute;left:2902px;top:208px;width:339px;height:56px;border:2px solid #dcdcdc;border-radius:9px;background:#fff"></div>
<div style="position:absolute;left:2904px;top:210px;width:96px;height:56px;background:#6fa6cc;border-radius:7px 0 0 7px"></div>
<div style="position:absolute;left:3000px;top:210px;width:2px;height:56px;background:#dcdcdc;"></div>
<div style="position:absolute;left:3104px;top:210px;width:2px;height:56px;background:#dcdcdc;"></div>
<div style="position:absolute;left:2902px;top:356px;width:264px;height:56px;border:2px solid #dcdcdc;border-radius:9px;background:#fff"></div>
<div style="position:absolute;left:2904px;top:358px;width:127px;height:56px;background:#6fa6cc;border-radius:7px 0 0 7px"></div>
<div style="position:absolute;left:3031px;top:358px;width:2px;height:56px;background:#dcdcdc;"></div>
<div style="position:absolute;left:2902px;top:512px;width:68px;height:28px;border-radius:14px;background:#82b1d4"></div>
<div style="position:absolute;left:2934px;top:506px;width:40px;height:40px;border-radius:50%;background:#2f5f9d;box-shadow:0 2px 3px rgba(0,0,0,.35),0 1px 6px rgba(0,0,0,.15)"></div>
<svg style="position:absolute;left:2934px;top:506px;" width="40" height="40" viewBox="0 0 40 40"><path d="M7.5 22 L16 30 L32.5 12.5" fill="none" stroke="#fff" stroke-width="3.6"/></svg>
<div style="position:absolute;left:3174px;top:512px;width:68px;height:28px;border-radius:14px;background:#82b1d4"></div>
<div style="position:absolute;left:3206px;top:506px;width:40px;height:40px;border-radius:50%;background:#4a88bb;box-shadow:0 2px 3px rgba(0,0,0,.35),0 1px 6px rgba(0,0,0,.15)"></div>
<svg style="position:absolute;left:3206px;top:506px;" width="40" height="40" viewBox="0 0 40 40"><path d="M7.5 22 L16 30 L32.5 12.5" fill="none" stroke="#fff" stroke-width="3.6"/></svg>
<div style="position:absolute;left:2902px;top:640px;width:68px;height:28px;border-radius:14px;background:#82b1d4"></div>
<div style="position:absolute;left:2934px;top:634px;width:40px;height:40px;border-radius:50%;background:#4a88bb;box-shadow:0 2px 3px rgba(0,0,0,.35),0 1px 6px rgba(0,0,0,.15)"></div>
<svg style="position:absolute;left:2934px;top:634px;" width="40" height="40" viewBox="0 0 40 40"><path d="M7.5 22 L16 30 L32.5 12.5" fill="none" stroke="#fff" stroke-width="3.6"/></svg>
<div style="position:absolute;left:3301px;top:712px;width:113px;height:56px;border-radius:8px;background:#fff;box-shadow:0 6px 2px -4px rgba(0,0,0,.2),0 4px 4px 0 rgba(0,0,0,.14),0 2px 10px 0 rgba(0,0,0,.12)"></div>
<div class="t" style="left:2902.0px;top:160.0px;font-size:26px;color:#555;letter-spacing:0.16px;-webkit-text-stroke:0.3px #555;">Plot type</div>
<div class="t" style="left:2927.2px;top:218.0px;font-size:26px;color:#fff;letter-spacing:0.16px;-webkit-text-stroke:0.55px #fff;">Line</div>
<div class="t" style="left:3027.0px;top:218.0px;font-size:26px;color:#111;transform:scaleX(0.935);transform-origin:0 0;-webkit-text-stroke:0.3px #111;">Area</div>
<div class="t" style="left:3129.3px;top:218.0px;font-size:26px;color:#111;letter-spacing:0.19px;-webkit-text-stroke:0.3px #111;">Column</div>
<div class="t" style="left:2902.0px;top:308.0px;font-size:26px;color:#555;letter-spacing:0.37px;-webkit-text-stroke:0.3px #555;">Normalization</div>
<div class="t" style="left:2927.4px;top:365.4px;font-size:26px;color:#fff;letter-spacing:0.16px;-webkit-text-stroke:0.55px #fff;">Simple</div>
<div class="t" style="left:3056.0px;top:365.4px;font-size:26px;color:#111;letter-spacing:0.26px;-webkit-text-stroke:0.3px #111;">By total</div>
<div class="t" style="left:2903.0px;top:456.0px;font-size:26px;color:#555;letter-spacing:0.23px;-webkit-text-stroke:0.3px #555;">Allow scaling</div>
<div class="t" style="left:3173.2px;top:456.0px;font-size:26px;color:#555;letter-spacing:-0.12px;-webkit-text-stroke:0.3px #555;">Show legend</div>
<div class="t" style="left:2902.3px;top:584.0px;font-size:26px;color:#555;letter-spacing:-0.14px;-webkit-text-stroke:0.3px #555;">Chart events</div>
<div class="t" style="left:3324.8px;top:719.5px;font-size:26px;letter-spacing:-0.11px;-webkit-text-stroke:0.3px #445356;">Close</div>
</div></body></html>
